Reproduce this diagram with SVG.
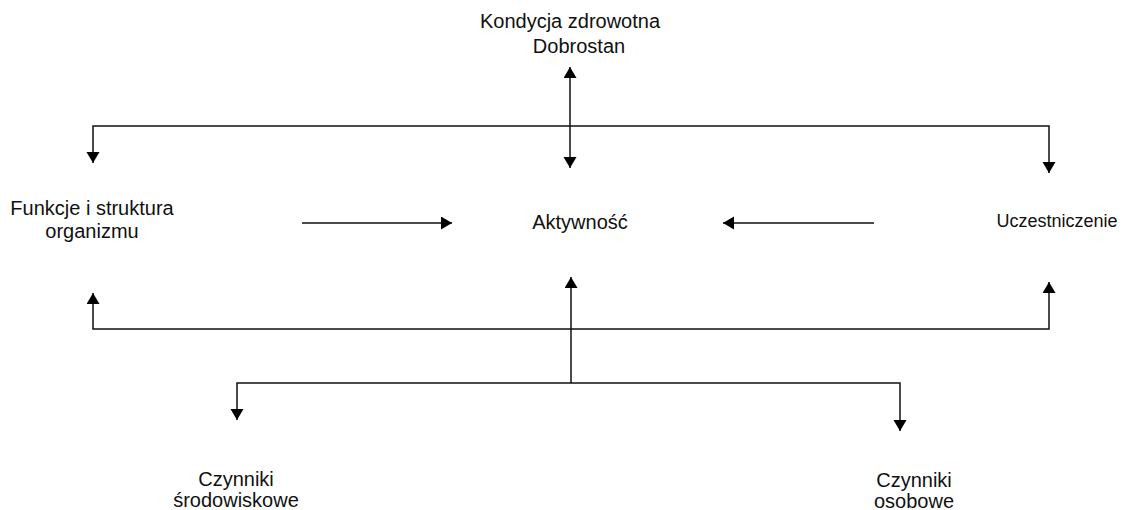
<svg xmlns="http://www.w3.org/2000/svg" width="1123" height="510" viewBox="0 0 1123 510">
<style>
text{font-family:"Liberation Sans",Arial,sans-serif;font-size:20px;fill:#111;text-anchor:middle}
.c{fill:none;stroke:#111;stroke-width:1.5}
.h{fill:none;stroke:#4a4a4a;stroke-width:2}
</style>
<defs>
<marker id="ah" markerUnits="userSpaceOnUse" markerWidth="12" markerHeight="14" refX="11" refY="6.5" orient="auto-start-reverse" viewBox="0 0 12 14">
<path d="M0,0 L11,6.5 L0,13 z" fill="#000"/>
</marker>
</defs>
<rect width="1123" height="510" fill="#fff"/>
<g id="connectors">
<path class="c" d="M570,67 V168" marker-start="url(#ah)" marker-end="url(#ah)"/>
<path class="c" d="M93,163 V126 H1049 V173" marker-start="url(#ah)" marker-end="url(#ah)"/>
<path class="c" d="M93,293 V329 H1049 V282" marker-start="url(#ah)" marker-end="url(#ah)"/>
<path class="h" d="M302,223 H452" marker-end="url(#ah)"/>
<path class="h" d="M874,223 H723" marker-end="url(#ah)"/>
<path class="c" d="M571,383 V277" marker-end="url(#ah)"/>
<path class="c" d="M237,420 V383 H900 V431" marker-start="url(#ah)" marker-end="url(#ah)"/>
</g>
<g id="kondycja"><text x="570" y="28">Kondycja zdrowotna</text><text x="579" y="53">Dobrostan</text></g>
<g id="funkcje"><text x="92" y="215">Funkcje i struktura</text><text x="92" y="238">organizmu</text></g>
<g id="aktywnosc"><text x="580" y="229">Aktywność</text></g>
<g id="uczestniczenie"><text x="1057" y="227" style="font-size:18px">Uczestniczenie</text></g>
<g id="srodowiskowe"><text x="236" y="486">Czynniki</text><text x="236" y="507">środowiskowe</text></g>
<g id="osobowe"><text x="914" y="487">Czynniki</text><text x="914" y="508">osobowe</text></g>
</svg>
